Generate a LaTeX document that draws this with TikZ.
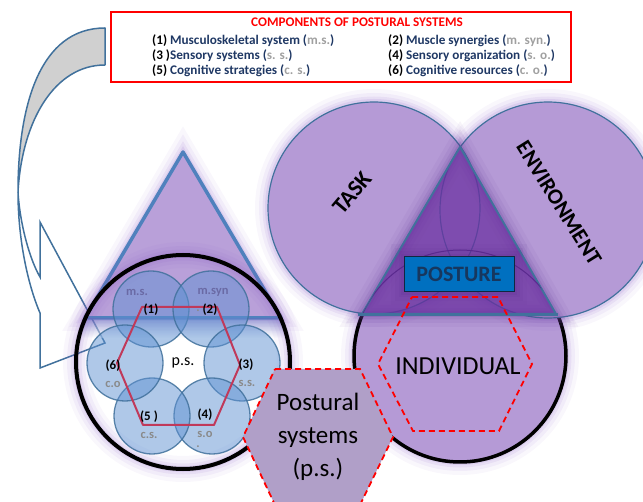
\documentclass[tikz,border=0pt]{standalone}
\usepackage{fontspec}
\setmainfont{Carlito}
\definecolor{navy}{HTML}{1F3864}
\definecolor{steel}{HTML}{41719C}
\definecolor{tribl}{HTML}{4F81BD}
\definecolor{lpurp}{HTML}{B59AD6}
\definecolor{tripurp}{HTML}{B9A0D9}
\definecolor{dpurp}{HTML}{6A2FA0}
\definecolor{glowc}{HTML}{8B5FC8}
\definecolor{dglow}{HTML}{5A2A8E}
\definecolor{hexfill}{HTML}{B09FC8}
\definecolor{crim}{HTML}{C0395A}
\definecolor{grayt}{HTML}{A0A0A0}
\definecolor{lgray}{HTML}{8A8A8A}
\definecolor{bgray}{HTML}{6A6AA5}
\definecolor{sfill}{HTML}{5F92D2}
\definecolor{arrowgray}{HTML}{D0D0D0}
\definecolor{postfill}{HTML}{0070C0}
\definecolor{posttxt}{HTML}{17375E}
\newcommand\grt[1]{\textcolor{grayt}{#1}}
\newcommand\blk[1]{\textcolor{black}{#1}}
\begin{document}
\begin{tikzpicture}[x=1pt,y=-1pt,
  glow/.style={preaction={draw=#1,draw opacity=0.05,line width=26pt},
    preaction={draw=#1,draw opacity=0.07,line width=18pt},
    preaction={draw=#1,draw opacity=0.1,line width=11pt},
    preaction={draw=#1,draw opacity=0.13,line width=6pt}},
  glow/.default=glowc,
  smallc/.style={fill=sfill,fill opacity=0.5,draw=steel,draw opacity=0.85,line width=1.3pt},
  num/.style={inner sep=0pt,font=\fontsize{13}{15}\selectfont\bfseries,text=black},
  abbr/.style={inner sep=0pt,font=\fontsize{12.5}{14}\selectfont\bfseries,text=lgray},
  linetxt/.style={anchor=base west,inner sep=0pt,font=\fontsize{13.2}{15}\selectfont\bfseries,text=navy},
  hexline/.style={draw=red,dash pattern=on 6pt off 4pt,line width=1.8pt},
  arrowline/.style={draw=steel,line width=1.5pt,line join=miter}
]
\useasboundingbox (0,0) rectangle (643,502);
\clip (0,0) rectangle (643,502);

% ---------- title box ----------
\draw[red,line width=2pt] (111,12) rectangle (571,82);
\node[anchor=base,inner sep=0pt,font=\fontsize{13.2}{15}\selectfont\bfseries,text=red] (title) at (357,27) {COMPONENTS OF POSTURAL SYSTEMS};
\node[linetxt] (l1) at (152,45) {\blk{(1)} Musculoskeletal system (\grt{m.s.})};
\node[linetxt] (l3) at (152,60) {\blk{(3 )}Sensory systems (\grt{s. s.})};
\node[linetxt] (l5) at (152,75) {\blk{(5)} Cognitive strategies (\grt{c. s.})};
\node[linetxt] (l2) at (388,45) {\blk{(2)} Muscle synergies (\grt{m. syn.})};
\node[linetxt] (l4) at (388,60) {\blk{(4)} Sensory organization (\grt{s. o.})};
\node[linetxt] (l6) at (388,75) {\blk{(6)} Cognitive resources (\grt{c. o.})};

% ---------- curved arrow ----------
\filldraw[fill=arrowgray,arrowline,line join=round]
  (105,28) .. controls (40,28) and (18,105) .. (18,192)
  .. controls (22,120) and (55,65) .. (105,65) -- cycle;
\filldraw[fill=white,arrowline]
  (18,192) .. controls (18,240) and (28,285) .. (40,313) -- (40,368) -- (105,343)
  -- (40,222) -- (40,277) .. controls (30,260) and (20,225) .. (18,192) -- cycle;

% ---------- left figure ----------
\filldraw[glow,fill=tripurp,draw=tribl,line width=3.5pt,line join=round]
  (183,152) -- (85,318) -- (281,318) -- cycle;
\begin{scope}
  \clip (183,362) circle (107pt);
  \shade[top color=tribl!55!glowc,bottom color=white,opacity=0.55] (70,319) rectangle (300,338);
\end{scope}
\draw[glow,line width=4pt] (183,362) circle (107pt);

\foreach \p in {(151,309),(211,309),(242,363),(212,416),(152,416),(125,363)}
  \draw[smallc] \p circle (38pt);

\draw[crim,line width=2pt,line join=round]
  (142,307) -- (217,307) -- (240,365) -- (214,425) -- (143,425) -- (117,363) -- cycle;

\node[abbr,text=bgray] (ms) at (137,292) {m.s.};
\node[abbr,text=bgray] (msyn) at (213,292) {m.syn};
\node[num] (n1) at (151,310) {(1)};
\node[abbr] (dot2) at (198,311) {.};
\node[num] (n2) at (210,310) {(2)};
\node[inner sep=0pt,font=\fontsize{16}{18}\selectfont] (ps) at (183,363) {p.s.};
\node[num] (n6) at (113,366) {(6)};
\node[abbr] (co) at (113,384) {c.o};
\node[num] (n3) at (246,365) {(3)};
\node[abbr] (ss) at (247,383) {s.s.};
\node[num] (n5) at (149,417) {(5 )};
\node[abbr] (cs) at (149,435) {c.s.};
\node[num] (n4) at (205,415) {(4)};
\node[abbr] (so) at (205,434) {s.o};
\node[abbr] (dot4) at (198,447) {.};

% ---------- right figure ----------
\filldraw[glow,fill=lpurp,draw=black,line width=3.5pt] (460,356) circle (106pt);
\path[glow] (374,208) circle (106pt);
\path[glow] (548,210) circle (108pt);
\fill[lpurp] (374,208) circle (106pt);
\fill[lpurp] (548,210) circle (108pt);
\draw[steel,line width=1.2pt] (374,208) circle (106pt);
\draw[steel,line width=1.2pt] (548,210) circle (108pt);

\filldraw[glow=dglow,fill=dpurp,fill opacity=0.72,draw=steel,line width=2pt,line join=round]
  (460,147) -- (362,314) -- (556,314) -- cycle;
\begin{scope}
  \clip (460,147) -- (362,314) -- (556,314) -- cycle;
  \draw[dglow,line width=1pt] (460,356) circle (106pt);
\end{scope}
\draw[steel,line width=3pt] (358,315) -- (558,315);

\node[glow=dglow,draw=posttxt!70!black,fill=postfill,line width=1pt,minimum width=110pt,minimum height=35pt,inner sep=0pt,
  font=\fontsize{22}{24}\selectfont\bfseries,text=posttxt] (post) at (459,274.5) {POSTURE};

\draw[hexline] (412,297) -- (498,297) -- (532,364) -- (499,431) -- (413,431) -- (378,364) -- cycle;
\node[inner sep=0pt,font=\fontsize{26}{30}\selectfont] (indiv) at (458,366) {INDIVIDUAL};

\node[rotate=50,inner sep=0pt,font=\fontsize{23}{26}\selectfont\bfseries] (task) at (352,193) {TASK};
\node[rotate=-58,inner sep=0pt,font=\fontsize{22}{26}\selectfont\bfseries] (env) at (559,203) {ENVIRONMENT};

% ---------- postural systems hexagon ----------
\filldraw[fill=hexfill,hexline] (275,369) -- (360,369) -- (393,437) -- (360,505) -- (275,505) -- (243,437) -- cycle;
\node[align=center,inner sep=0pt,font=\fontsize{25}{33}\selectfont] (psys) at (318,437) {Postural\\systems\\(p.s.)};
\end{tikzpicture}
\end{document}
